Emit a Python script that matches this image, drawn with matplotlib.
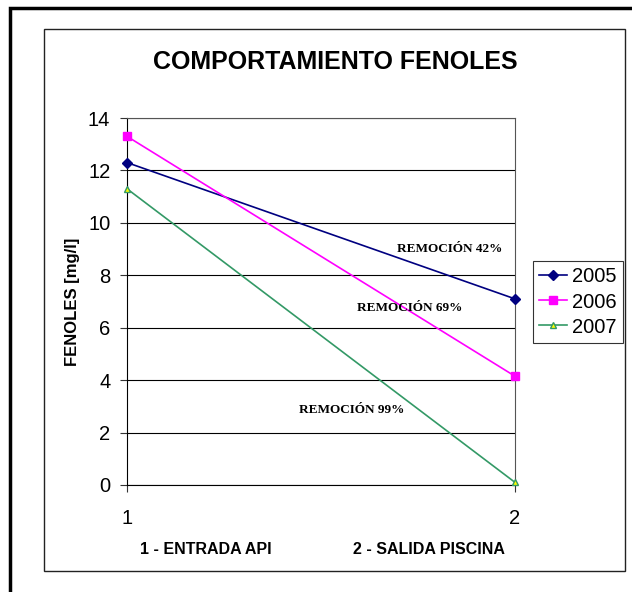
import matplotlib.pyplot as plt
from matplotlib.patches import Rectangle

plt.rcParams['font.family'] = ['Liberation Sans', 'DejaVu Sans']

points = [1, 2]
years = ['2005', '2006', '2007']
fenoles_2005 = [12.3, 7.1]
fenoles_2006 = [13.3, 4.15]
fenoles_2007 = [11.3, 0.1]
removal_labels = ['REMOCIÓN 42%', 'REMOCIÓN 69%', 'REMOCIÓN 99%']

fig = plt.figure(figsize=(6.32, 5.92), dpi=100)

# outer frame and chart-area frame
fig.patches.append(Rectangle((10 / 632, -0.05), 1.0, 1 - 8 / 592 + 0.05, transform=fig.transFigure,
                             fill=False, edgecolor='black', linewidth=2.5))
fig.patches.append(Rectangle((44 / 632, 1 - 571 / 592), 581 / 632, 542 / 592, transform=fig.transFigure,
                             fill=False, edgecolor='#222222', linewidth=1.0))

ax = fig.add_axes([127 / 632, 1 - 485 / 592, 388 / 632, 367 / 592])

ax.plot(points, fenoles_2005, color='#000080', marker='D', markersize=5.5, linewidth=1.2,
        clip_on=False, zorder=3, label=years[0])
ax.plot(points, fenoles_2006, color='#ff00ff', marker='s', markersize=5.5, linewidth=1.2,
        clip_on=False, zorder=3, label=years[1])
ax.plot(points, fenoles_2007, color='#339966', marker='^', markersize=5, markerfacecolor='#ffff00',
        markeredgecolor='#339966', linewidth=1.2, clip_on=False, zorder=3, label=years[2])

ax.set_xlim(1, 2)
ax.set_ylim(0, 14)
ax.set_yticks(range(0, 15, 2))
ax.set_xticks(points)
ax.tick_params(labelsize=14.5, direction='out', length=5, color='#333333', pad=7)
ax.tick_params(axis='x', pad=12)
ax.yaxis.grid(True, color='black', linewidth=0.8)
ax.set_axisbelow(True)
for s in ax.spines.values():
    s.set_color('#555555')
ax.spines['left'].set_color('black')
ax.spines['bottom'].set_color('black')

ax.set_ylabel('FENOLES [mg/l]', fontsize=12, fontweight='bold', labelpad=6)
fig.text(335 / 632, 1 - 62 / 592, 'COMPORTAMIENTO FENOLES', ha='center', va='center',
         fontsize=18, fontweight='bold')
fig.text(206 / 632, 1 - 549 / 592, '1 - ENTRADA API', ha='center', va='center', fontsize=11.5, fontweight='bold')
fig.text(429 / 632, 1 - 549 / 592, '2 - SALIDA PISCINA', ha='center', va='center', fontsize=11.5, fontweight='bold')

label_pos = [(1.832, 9.0), (1.729, 6.75), (1.58, 2.85)]
for txt, (x, y) in zip(removal_labels, label_pos):
    ax.text(x, y, txt, ha='center', va='center', fontsize=9.5, fontweight='bold',
            family=['Liberation Serif', 'DejaVu Serif'])

leg = fig.legend(loc='center', bbox_to_anchor=(578 / 632, 1 - 302 / 592), fontsize=14.5,
                 frameon=True, fancybox=False, edgecolor='black', borderpad=0.3,
                 handlelength=1.4, handletextpad=0.25, labelspacing=0.3, borderaxespad=0)
leg.get_frame().set_linewidth(0.8)

fig.savefig('out.png', dpi=100)
